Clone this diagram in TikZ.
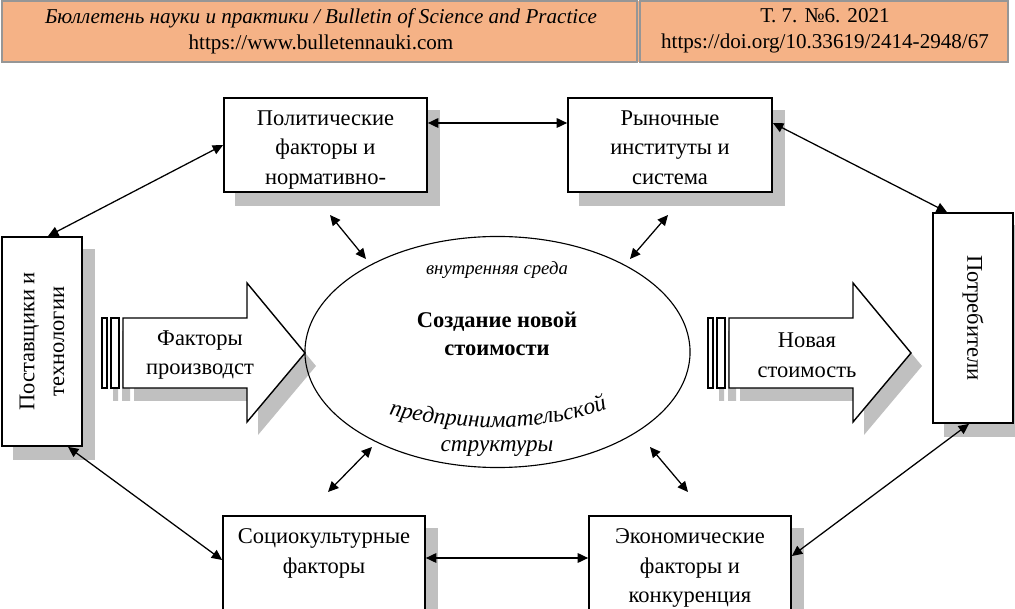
\documentclass[tikz,border=0pt]{standalone}
\usepackage{fontspec}
\setmainfont{Liberation Serif}
\usetikzlibrary{positioning,shapes.geometric,arrows.meta,backgrounds,decorations.text}
\definecolor{hdrfill}{RGB}{245,178,134}
\definecolor{hdrline}{RGB}{150,150,150}
\definecolor{shadowgray}{RGB}{192,192,192}

\begin{document}
\begin{tikzpicture}[x=0.025cm,y=-0.025cm,
  every node/.style={font=\fontsize{16}{21}\selectfont},
  box/.style={draw,line width=1.2pt,fill=white,inner sep=0pt,align=center},
  txt/.style={align=center,inner sep=0pt},
  dbl/.style={{Triangle[length=2.6mm,width=2.4mm]}-{Triangle[length=2.6mm,width=2.4mm]},line width=0.9pt},
  blk/.style={draw,line width=1pt,fill=white}]
\useasboundingbox (0,0) rectangle (1015,609);
\clip (0,0) rectangle (1015,609);

% header
\fill[hdrfill] (2,1) rectangle (1008,62);
\draw[hdrline,line width=1.5pt] (2,1) rectangle (637,62) (640,1) rectangle (1008,62);
\node[txt,font=\fontsize{15}{18.5}\selectfont] (jrn) at (321,31) {\textit{Бюллетень науки и практики / Bulletin of Science and Practice}\\https://www.bulletennauki.com};
\node[txt,font=\fontsize{15}{18.5}\selectfont] (doi) at (825,31) {Т. 7. №6. 2021\\https://doi.org/10.33619/2414-2948/67};

% boxes
\node[box,minimum width=5.075cm,minimum height=2.35cm] (pol) at (325.5,145) {};
\node[box,minimum width=5.1cm,minimum height=2.35cm] (mkt) at (670,145) {};
\node[box,rotate=90,minimum width=5.225cm,minimum height=2cm] (sup) at (42,341.5) {Поставщики и\\технологии};
\node[box,rotate=-90,minimum width=5.25cm,minimum height=2cm] (con) at (973,318) {Потребители};
\node[box,minimum width=5.05cm,minimum height=2.5cm] (soc) at (324,566) {};
\node[box,minimum width=5.05cm,minimum height=2.5cm] (eco) at (690,566) {};

\node[txt,below=0.33cm of pol.north] (polt) {Политические\\факторы и\\нормативно-};
\node[txt,below=0.33cm of mkt.north] (mktt) {Рыночные\\институты и\\система};
\node[txt,below=0.33cm of soc.north] (soct) {Социокультурные\\факторы};
\node[txt,below=0.33cm of eco.north] (ecot) {Экономические\\факторы и\\конкуренция};

% centre
\node[draw,ellipse,line width=0.8pt,minimum width=9.625cm,minimum height=5.775cm] (ell) at (497.5,352) {};
\node[font=\itshape\fontsize{13.3}{14}\selectfont] (env) at (497,270) {внутренняя среда};
\node[txt,font=\bfseries\fontsize{16}{19.5}\selectfont] (ttl) at (497,334) {Создание новой\\стоимости};
\path[decorate,decoration={text along path,text align=center,
  text={|\itshape\fontsize{16.5}{17}\selectfont|предпринимательской}}]
  (374,410) .. controls (450,434) and (545,434) .. (622,404);
\node[font=\itshape\fontsize{16.5}{17}\selectfont] (str) at (497,449) {структуры};

% block arrows
\foreach \dx in {0,606} {
  \draw[blk] (123+\dx,318) -- (247+\dx,318) -- (247+\dx,283) -- (305+\dx,353) -- (247+\dx,422) -- (247+\dx,388) -- (123+\dx,388) -- cycle;
  \draw[blk] (102+\dx,318) rectangle (107+\dx,388);
  \draw[blk] (111+\dx,318) rectangle (119+\dx,388);
}
\node[txt] (fp) at (200,355) {Факторы\\производст};
\node[txt] (nv) at (807,355) {Новая\\стоимость};

% shadows
\begin{scope}[on background layer]
\foreach \n in {pol,mkt,sup,con,soc,eco}
  \fill[shadowgray] ([shift={(12,13)}]\n.south west) rectangle ([shift={(12,13)}]\n.north east);
\foreach \dx in {0,606} {
  \fill[shadowgray,shift={(11,13)}] (123+\dx,318) -- (247+\dx,318) -- (247+\dx,283) -- (305+\dx,353) -- (247+\dx,422) -- (247+\dx,388) -- (123+\dx,388) -- cycle;
  \fill[shadowgray,shift={(11,13)}] (102+\dx,318) rectangle (107+\dx,388) (111+\dx,318) rectangle (119+\dx,388);
}
\end{scope}

% links
\draw[dbl] (pol.west) -- ([xshift=0.15cm]sup.east);
\draw[dbl] ([yshift=0.55cm]pol.east) -- ([yshift=0.55cm]mkt.west);
\draw[dbl] ([yshift=0.55cm]mkt.east) -- ([xshift=-0.65cm]con.west);
\draw[dbl] ([xshift=0.65cm]sup.west) -- ([yshift=0.15cm]soc.west);
\draw[dbl] ([yshift=0.2cm]soc.east) -- ([yshift=0.2cm]eco.west);
\draw[dbl] ([yshift=0.25cm]eco.east) -- ([xshift=-0.1cm]con.east);

\coordinate (tl) at (330,215); \coordinate (tlE) at (366,259);
\coordinate (tr) at (668,215); \coordinate (trE) at (630,259);
\coordinate (bl) at (328,492); \coordinate (blE) at (372,447);
\coordinate (br) at (688,492); \coordinate (brE) at (650,447);
\foreach \a in {tl,tr,bl,br}
  \draw[dbl] (\a) -- (\a E);
\end{tikzpicture}
\end{document}
